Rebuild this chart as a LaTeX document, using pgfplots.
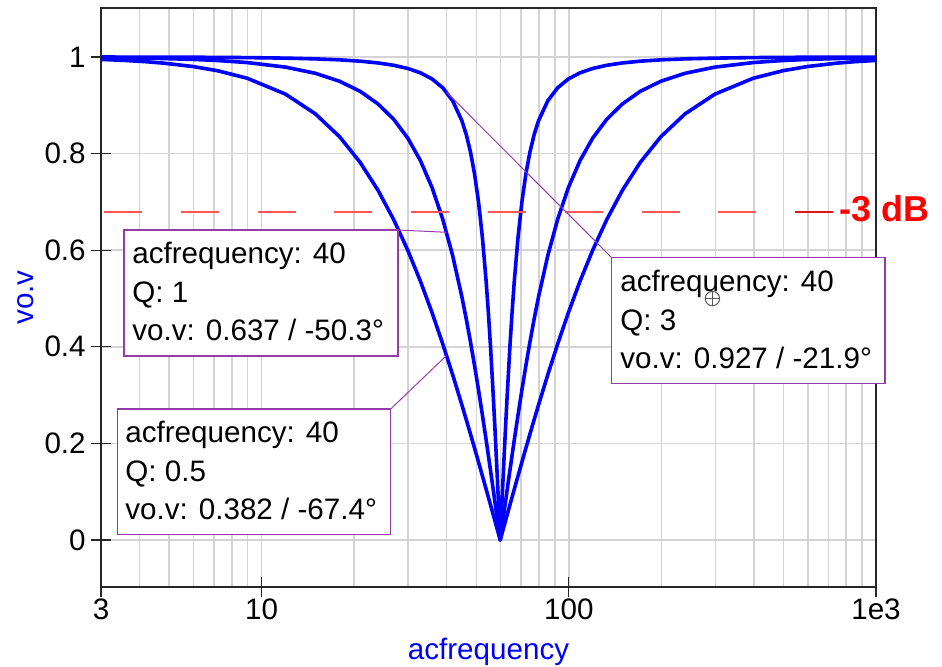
\documentclass[border=0pt]{standalone}
\usepackage{pgfplots}
\pgfplotsset{compat=1.18}
\usepackage{pgfplotstable}
\usepackage{fontspec}
\setmainfont{Liberation Sans}
\definecolor{curveblue}{RGB}{0,0,255}
\definecolor{boxpurple}{RGB}{150,60,170}
\definecolor{gridgray}{RGB}{212,212,212}
\definecolor{dbred}{RGB}{255,85,85}
\definecolor{dbdark}{RGB}{225,20,20}

\pgfplotstableread{
f q05 q1 q3
2.99 0.99501 0.99875 0.99986
3.588 0.99282 0.99819 0.99980
4.186 0.99025 0.99754 0.99973
4.784 0.98728 0.99678 0.99964
5.98 0.98020 0.99494 0.99943
7.176 0.97161 0.99267 0.99918
8.97 0.95599 0.98843 0.99869
11.96 0.92308 0.97898 0.99760
14.95 0.88235 0.96624 0.99607
17.94 0.83486 0.94972 0.99402
20.93 0.78174 0.92884 0.99128
23.92 0.72414 0.90286 0.98764
26.91 0.66321 0.87092 0.98277
29.9 0.60000 0.83205 0.97619
32.89 0.53551 0.78524 0.96715
35.88 0.47059 0.72954 0.95448
38.87 0.40598 0.66419 0.93627
41.86 0.34228 0.58886 0.90935
44.85 0.28000 0.50387 0.86824
46.345 0.24951 0.45808 0.83965
47.84 0.21951 0.41036 0.80356
49.335 0.19004 0.36101 0.75779
50.83 0.16110 0.31035 0.69971
52.325 0.13274 0.25874 0.62639
53.82 0.10497 0.20656 0.53505
54.717 0.08860 0.17515 0.47083
55.614 0.07244 0.14376 0.39952
56.81 0.05125 0.10210 0.29426
57.408 0.04080 0.08140 0.23796
58.006 0.03045 0.06082 0.17980
58.604 0.02020 0.04038 0.12034
59.202 0.01005 0.02010 0.06019
59.8 0 0 0
60.404 0.01005 0.02010 0.06019
61.020 0.02020 0.04038 0.12034
61.649 0.03045 0.06082 0.17980
62.292 0.04080 0.08140 0.23796
62.947 0.05125 0.10210 0.29426
64.301 0.07244 0.14376 0.39952
65.355 0.08860 0.17515 0.47083
66.444 0.10497 0.20656 0.53505
68.343 0.13274 0.25874 0.62639
70.353 0.16110 0.31035 0.69971
72.485 0.19004 0.36101 0.75779
74.75 0.21951 0.41036 0.80356
77.161 0.24951 0.45808 0.83965
79.733 0.28000 0.50387 0.86824
85.429 0.34228 0.58886 0.90935
92.0 0.40598 0.66419 0.93627
99.667 0.47059 0.72954 0.95448
108.727 0.53551 0.78524 0.96715
119.6 0.60000 0.83205 0.97619
132.889 0.66321 0.87092 0.98277
149.5 0.72414 0.90286 0.98764
170.857 0.78174 0.92884 0.99128
199.333 0.83486 0.94972 0.99402
239.2 0.88235 0.96624 0.99607
299.0 0.92308 0.97898 0.99760
398.667 0.95599 0.98843 0.99869
498.333 0.97161 0.99267 0.99918
598 0.98020 0.99494 0.99943
747.5 0.98728 0.99678 0.99964
854.286 0.99025 0.99754 0.99973
996.667 0.99282 0.99819 0.99980
1196 0.99501 0.99875 0.99986
}\notchdata

\begin{document}
\begin{tikzpicture}[font=\fontsize{14.8}{19}\selectfont]
\path[use as bounding box] (-50.5pt,-40pt) rectangle (420.5pt,293.5pt);
\begin{axis}[
  at={(0pt,0pt)}, anchor=south west,
  scale only axis, width=387.5pt, height=289.5pt,
  xmode=log, xmin=3, xmax=1000, ymin=-0.0973, ymax=1.1014,
  xtick={3,10,100,1000}, xticklabels={3,10,100,1e3},
  minor xtick={4,5,6,7,8,9,20,30,40,50,60,70,80,90,200,300,400,500,600,700,800,900},
  ytick={0,0.2,0.4,0.6,0.8,1}, yticklabels={0,0.2,0.4,0.6,0.8,1},
  xtick pos=bottom, ytick pos=left,
  xmajorgrids, xminorgrids, ymajorgrids,
  grid style={gridgray, line width=0.75pt},
  minor grid style={gridgray, line width=0.75pt},
  tick align=center, major tick length=10pt, minor tick length=0pt,
  tick style={black!85, line width=0.6pt},
  axis line style={black!85, line width=0.7pt},
  ticklabel style={font=\fontsize{14.8}{16}\selectfont},
  xticklabel style={anchor=base, yshift=-11.25pt},
  yticklabel style={anchor=east, inner sep=0pt, xshift=-2.5pt},
  xlabel={acfrequency}, ylabel={vo.v},
  every axis x label/.style={at={(axis description cs:0.5,-0.1244)}, anchor=base, text=curveblue},
  every axis y label/.style={at={(axis description cs:-0.0968,0.5)}, rotate=90, anchor=center, text=curveblue},
  clip=true,
]
\addplot[curveblue, line width=1.8pt, line join=round] table[x=f, y=q05] {\notchdata};
\addplot[curveblue, line width=1.8pt, line join=round] table[x=f, y=q1] {\notchdata};
\addplot[curveblue, line width=1.8pt, line join=round] table[x=f, y=q3] {\notchdata};
\coordinate (P1) at (axis cs:40,0.637);
\coordinate (P2) at (axis cs:40,0.382);
\coordinate (P3) at (axis cs:40,0.927);
\end{axis}
% -3 dB reference line
\draw[draw=dbred, line width=0.9pt, dash pattern=on 19pt off 19.4pt] (1.5pt,187.65pt) -- (328pt,187.65pt);
\draw[draw=dbdark, line width=0.9pt] (347.1pt,187.65pt) -- (366pt,187.65pt);
\node[anchor=base west, inner sep=0pt, text=red, font=\fontsize{18}{20}\selectfont\bfseries] at (369pt,182.6pt) {-3 dB};
% leader lines
\draw[boxpurple, line width=0.5pt] (148.5pt,178.5pt) -- (P1);
\draw[boxpurple, line width=0.5pt] (144.85pt,89pt) -- (P2);
\draw[boxpurple, line width=0.5pt] (255.35pt,164.65pt) -- (P3);
% box Q=1
\draw[boxpurple, line width=0.75pt, fill=white] (11.5pt,115.5pt) rectangle (148.5pt,178.5pt);
\node[anchor=base west, inner sep=0pt] at (15.5pt,161.5pt) {acfrequency: 40};
\node[anchor=base west, inner sep=0pt] at (15.5pt,142.3pt) {Q: 1};
\node[anchor=base west, inner sep=0pt] at (15.5pt,123.1pt) {vo.v: 0.637 / -50.3°};
% box Q=0.5
\draw[boxpurple, line width=0.75pt, fill=white] (8.15pt,26.35pt) rectangle (144.85pt,89pt);
\node[anchor=base west, inner sep=0pt] at (12pt,72pt) {acfrequency: 40};
\node[anchor=base west, inner sep=0pt] at (12pt,52.8pt) {Q: 0.5};
\node[anchor=base west, inner sep=0pt] at (12pt,33.6pt) {vo.v: 0.382 / -67.4°};
% box Q=3
\draw[boxpurple, line width=0.75pt, fill=white] (255.35pt,101.85pt) rectangle (392pt,164.65pt);
\node[anchor=base west, inner sep=0pt] at (259.5pt,147.65pt) {acfrequency: 40};
\node[anchor=base west, inner sep=0pt] at (259.5pt,128.45pt) {Q: 3};
\node[anchor=base west, inner sep=0pt] at (259.5pt,109.25pt) {vo.v: 0.927 / -21.9°};
% mouse cursor drawn over the box
\draw[black!65, line width=0.5pt] (305.7pt,144.2pt) circle (3.6pt);
\draw[black!65, line width=0.5pt] (302.1pt,144.2pt) -- (309.3pt,144.2pt) (305.7pt,140.6pt) -- (305.7pt,147.8pt);
\end{tikzpicture}
\end{document}
